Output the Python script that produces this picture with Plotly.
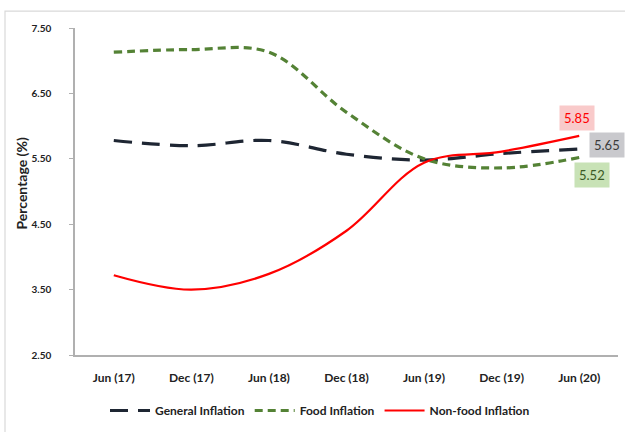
import plotly.graph_objects as go

categories = ["Jun (17)", "Dec (17)", "Jun (18)", "Dec (18)", "Jun (19)", "Dec (19)", "Jun (20)"]
general = [5.78, 5.70, 5.78, 5.57, 5.48, 5.58, 5.65]
food = [7.13, 7.17, 7.13, 6.21, 5.50, 5.36, 5.52]
nonfood = [3.72, 3.50, 3.74, 4.40, 5.44, 5.61, 5.85]
yticks = [2.5, 3.5, 4.5, 5.5, 6.5, 7.5]

FONT = "Lato, Open Sans, sans-serif"
NAVY = "#1e2633"
GREEN = "#548235"
RED = "#ff0000"

fig = go.Figure()
fig.add_trace(go.Scatter(x=categories, y=general, name="General Inflation", mode="lines",
                         line=dict(color=NAVY, width=3.2, dash="18px,10px", shape="spline")))
fig.add_trace(go.Scatter(x=categories, y=food, name="Food Inflation", mode="lines",
                         line=dict(color=GREEN, width=3.2, dash="8px,5px", shape="spline")))
fig.add_trace(go.Scatter(x=categories, y=nonfood, name="Non-food Inflation", mode="lines",
                         line=dict(color=RED, width=2.2, shape="spline")))

L, R, T, B = 75, 7, 28, 74
W, H = 625, 432
pw, ph = W - L - R, H - T - B

def px2paper_x(px):
    return (px - L) / pw

def px2paper_y(py):
    return (H - B - py) / ph

# outer frame
fig.add_shape(type="rect", xref="paper", yref="paper",
              x0=px2paper_x(5), x1=px2paper_x(640), y0=px2paper_y(450), y1=px2paper_y(11),
              line=dict(color="#d9d9d9", width=1.2), fillcolor="rgba(0,0,0,0)", layer="below")

# y-axis title
fig.add_annotation(xref="paper", yref="paper", x=px2paper_x(22), y=px2paper_y(185),
                   text="Percentage (%)", textangle=-90, showarrow=False,
                   xanchor="center", yanchor="middle",
                   font=dict(family=FONT, size=14, color="#222222", weight="bold"))

last = categories[-1]
fig.add_annotation(x=last, y=nonfood[-1], text="5.85", showarrow=False, xshift=-2, yshift=18,
                   font=dict(family=FONT, size=13, color="#ff0000"), bgcolor="#f9caca",
                   borderpad=4)
fig.add_annotation(x=last, y=general[-1], text="5.65", showarrow=False, xshift=28, yshift=4,
                   font=dict(family=FONT, size=13, color="#3a3a3a"), bgcolor="#c9c9cd",
                   borderpad=4)
fig.add_annotation(x=last, y=food[-1], text="5.52", showarrow=False, xshift=13, yshift=-18,
                   font=dict(family=FONT, size=13, color="#3b5a25"), bgcolor="#c8e2b6",
                   borderpad=4)

fig.update_layout(
    width=W, height=H,
    margin=dict(l=L, r=R, t=T, b=B),
    paper_bgcolor="white", plot_bgcolor="white",
    font=dict(family=FONT, color="#222222"),
    showlegend=True,
    legend=dict(orientation="h", x=px2paper_x(320), xanchor="center", y=px2paper_y(414), yanchor="middle",
                font=dict(family=FONT, size=12, color="#222222", weight="bold"),
                itemwidth=40, tracegroupgap=0, bgcolor="rgba(0,0,0,0)"),
    xaxis=dict(type="category", range=[-0.5, len(categories) - 0.5], automargin=False,
               showline=True, linecolor="#b0b0b0", linewidth=1.5,
               showgrid=False, ticks="", zeroline=False, ticklabelstandoff=11,
               tickfont=dict(family=FONT, size=12, color="#222222", weight="bold")),
    yaxis=dict(range=[2.5, 7.5], tickvals=yticks, tickformat=".2f", automargin=False,
               showline=True, linecolor="#b0b0b0", linewidth=1.5,
               ticks="outside", ticklen=4, tickcolor="#b0b0b0", ticklabelstandoff=16,
               showgrid=False, zeroline=False,
               tickfont=dict(family=FONT, size=10, color="#222222", weight="bold")),
)

fig.write_html("out.html", config={"displayModeBar": False},
               post_script="document.body.style.margin='0';")
